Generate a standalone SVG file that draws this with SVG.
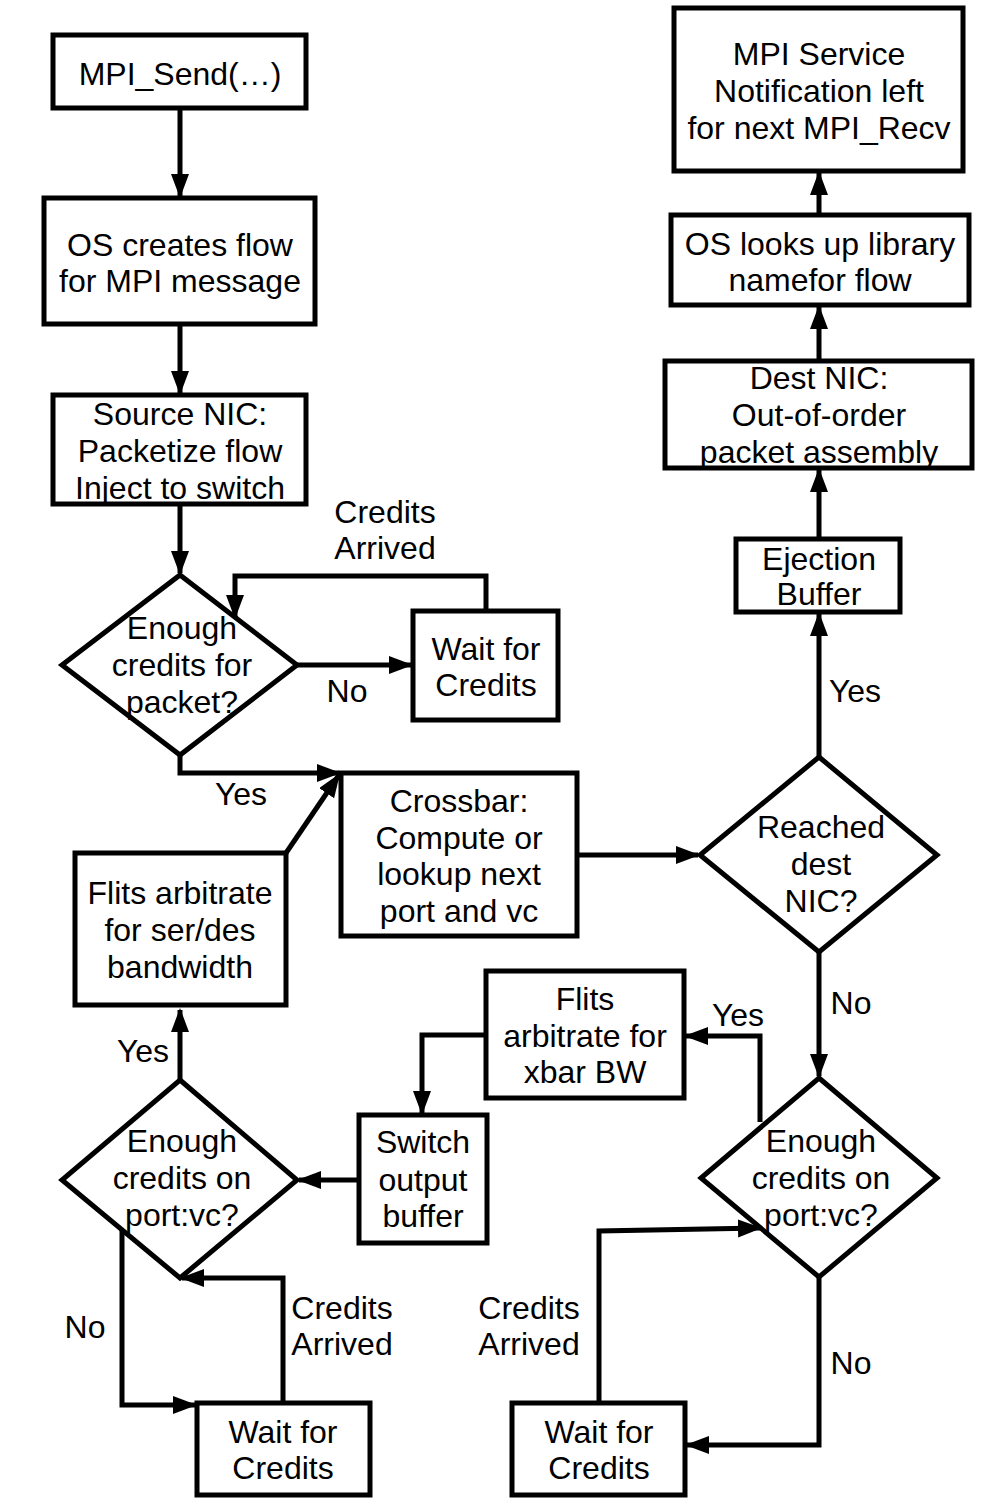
<svg xmlns="http://www.w3.org/2000/svg" width="1008" height="1512" viewBox="0 0 1008 1512">
<style>
  .box { fill: #fff; stroke: #000; stroke-width: 5; }
  .con { fill: none; stroke: #000; stroke-width: 5; marker-end: url(#ah); }
  text { font-family: "Liberation Sans", Arial, sans-serif; font-size: 32px; fill: #000; text-anchor: middle; }
</style>
<defs>
  <marker id="ah" markerUnits="userSpaceOnUse" markerWidth="24" markerHeight="20" refX="22" refY="9" orient="auto">
    <path d="M0,0 L24,9 L0,18 z" fill="#000"/>
  </marker>
</defs>
<rect width="1008" height="1512" fill="#fff"/>

<g id="connectors">
  <path class="con" d="M180,108 V196"/>
  <path class="con" d="M180,324 V393"/>
  <path class="con" d="M180,504 V573"/>
  <path class="con" d="M297,665 H411"/>
  <path class="con" d="M486,611 V576 H235 V617"/>
  <path class="con" d="M180,755 V773 H339"/>
  <path class="con" d="M286,853 L339,775"/>
  <path class="con" d="M577,855 H698"/>
  <path class="con" d="M819,757 V614"/>
  <path class="con" d="M819,539 V470"/>
  <path class="con" d="M819,361 V307"/>
  <path class="con" d="M819,215 V173"/>
  <path class="con" d="M819,952 V1076"/>
  <path class="con" d="M760,1122 V1036 H686"/>
  <path class="con" d="M486,1035 H422 V1113"/>
  <path class="con" d="M359,1180 H299"/>
  <path class="con" d="M180,1080 V1010"/>
  <path class="con" d="M122,1225 V1405 H195"/>
  <path class="con" d="M283,1403 V1278 H182"/>
  <path class="con" d="M819,1277 V1445 H687"/>
  <path class="con" d="M599,1403 V1231 L760,1228"/>
</g>

<g id="lbl-credits1"><text x="385" y="523">Credits</text><text x="385" y="559">Arrived</text></g>
<g id="lbl-no1"><text x="347" y="702">No</text></g>
<g id="lbl-yes1"><text x="241" y="805">Yes</text></g>
<g id="lbl-yes2"><text x="855" y="702">Yes</text></g>
<g id="lbl-no2"><text x="851" y="1014">No</text></g>
<g id="lbl-yes3"><text x="738" y="1026">Yes</text></g>
<g id="lbl-yes4"><text x="143" y="1062">Yes</text></g>
<g id="lbl-no3"><text x="85" y="1338">No</text></g>
<g id="lbl-credits2"><text x="342" y="1319">Credits</text><text x="342" y="1355">Arrived</text></g>
<g id="lbl-credits3"><text x="529" y="1319">Credits</text><text x="529" y="1355">Arrived</text></g>
<g id="lbl-no4"><text x="851" y="1374">No</text></g>

<g id="mpi-send"><rect class="box" x="53" y="35" width="253" height="73"/><text x="180" y="85">MPI_Send(…)</text></g>
<g id="os-creates"><rect class="box" x="44" y="198" width="271" height="126"/><text x="180" y="256">OS creates flow</text><text x="180" y="292">for MPI message</text></g>
<g id="source-nic"><rect class="box" x="53" y="395" width="253" height="109"/><text x="180" y="425">Source NIC:</text><text x="180" y="462">Packetize flow</text><text x="180" y="499">Inject to switch</text></g>
<g id="enough-packet"><polygon class="box" points="180,575 297,665 180,755 62,665"/><text x="182" y="639">Enough</text><text x="182" y="676">credits for</text><text x="182" y="713">packet?</text></g>
<g id="wait1"><rect class="box" x="413" y="611" width="145" height="109"/><text x="486" y="660">Wait for</text><text x="486" y="696">Credits</text></g>
<g id="crossbar"><rect class="box" x="341" y="773" width="236" height="163"/><text x="459" y="812">Crossbar:</text><text x="459" y="849">Compute or</text><text x="459" y="885">lookup next</text><text x="459" y="922">port and vc</text></g>
<g id="flits-serdes"><rect class="box" x="75" y="853" width="211" height="152"/><text x="180" y="904">Flits arbitrate</text><text x="180" y="941">for ser/des</text><text x="180" y="978">bandwidth</text></g>
<g id="reached"><polygon class="box" points="819,757 937,855 819,952 700,855"/><text x="821" y="838">Reached</text><text x="821" y="875">dest</text><text x="821" y="912">NIC?</text></g>
<g id="ejection"><rect class="box" x="736" y="539" width="164" height="73"/><text x="819" y="570">Ejection</text><text x="819" y="605">Buffer</text></g>
<g id="dest-nic"><rect class="box" x="665" y="361" width="307" height="107"/><text x="819" y="389">Dest NIC:</text><text x="819" y="426">Out-of-order</text><text x="819" y="463">packet assembly</text></g>
<g id="os-lookup"><rect class="box" x="671" y="215" width="298" height="90"/><text x="820" y="255">OS looks up library</text><text x="820" y="291">namefor flow</text></g>
<g id="mpi-service"><rect class="box" x="674" y="8" width="289" height="163"/><text x="819" y="65">MPI Service</text><text x="819" y="102">Notification left</text><text x="819" y="139">for next MPI_Recv</text></g>
<g id="flits-xbar"><rect class="box" x="486" y="971" width="198" height="127"/><text x="585" y="1010">Flits</text><text x="585" y="1047">arbitrate for</text><text x="585" y="1083">xbar BW</text></g>
<g id="switch-out"><rect class="box" x="359" y="1115" width="128" height="128"/><text x="423" y="1153">Switch</text><text x="423" y="1191">output</text><text x="423" y="1227">buffer</text></g>
<g id="enough-left"><polygon class="box" points="180,1080 297,1180 180,1278 62,1180"/><text x="182" y="1152">Enough</text><text x="182" y="1189">credits on</text><text x="182" y="1226">port:vc?</text></g>
<g id="enough-right"><polygon class="box" points="819,1078 937,1178 819,1277 701,1178"/><text x="821" y="1152">Enough</text><text x="821" y="1189">credits on</text><text x="821" y="1226">port:vc?</text></g>
<g id="wait2"><rect class="box" x="197" y="1403" width="173" height="92"/><text x="283" y="1443">Wait for</text><text x="283" y="1479">Credits</text></g>
<g id="wait3"><rect class="box" x="512" y="1403" width="173" height="92"/><text x="599" y="1443">Wait for</text><text x="599" y="1479">Credits</text></g>
</svg>
